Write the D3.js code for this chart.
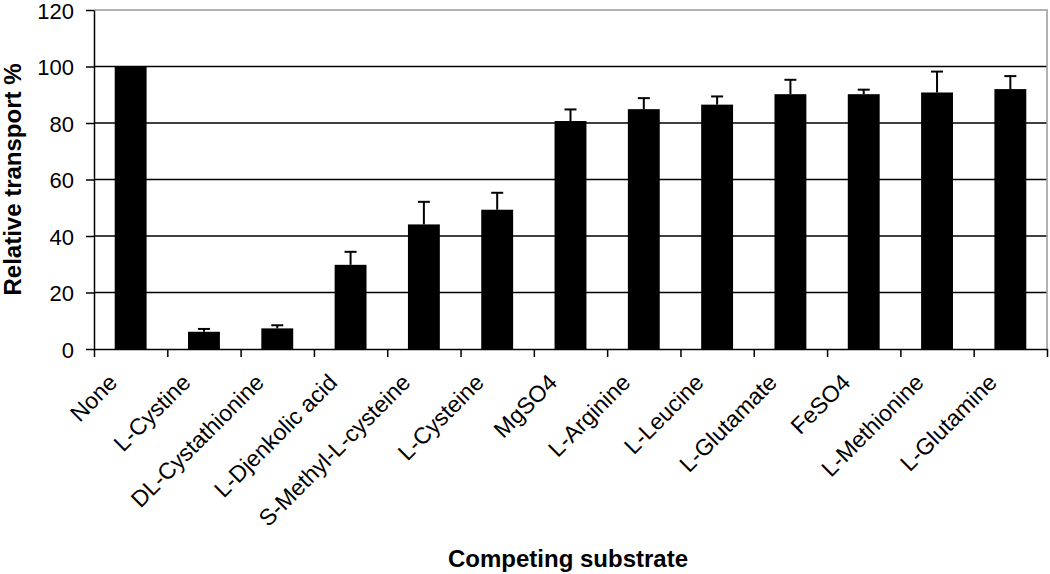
<!DOCTYPE html>
<html>
<head>
<meta charset="utf-8">
<script src="https://cdn.jsdelivr.net/npm/d3@7"></script>
<style>
  body { margin: 0; background: #fff; }
  svg { font-family: "Liberation Sans", Arial, sans-serif; }
  .axis path, .axis line { stroke: #000; stroke-width: 1.5px; }
  .axis text { font-size: 22px; fill: #000; }
  .axis .lab { font-size: 23px; }
  .title { font-size: 24px; font-weight: bold; }
</style>
</head>
<body>
<svg width="1050" height="574"></svg>
<script>
// waarden
var substrates = ["None", "L-Cystine", "DL-Cystathionine", "L-Djenkolic acid", "S-Methyl-L-cysteine",
  "L-Cysteine", "MgSO4", "L-Arginine", "L-Leucine", "L-Glutamate", "FeSO4", "L-Methionine", "L-Glutamine"];
var transport = [100, 6.1, 7.3, 29.8, 44.1, 49.3, 80.7, 84.9, 86.5, 90.2, 90.2, 90.8, 92.0];
var errors = [0, 1.0, 1.1, 4.6, 8.0, 6.0, 4.1, 3.9, 2.9, 5.1, 1.6, 7.4, 4.6];
var yTicks = [0, 20, 40, 60, 80, 100, 120];

var svg = d3.select("svg"),
    margin = { top: 10, right: 3, bottom: 225, left: 94 },
    width = +svg.attr("width") - margin.left - margin.right,
    height = +svg.attr("height") - margin.top - margin.bottom;

var x = d3.scaleBand().domain(substrates).range([0, width]).paddingInner(0.565).paddingOuter(0.2825),
    xTick = d3.scaleLinear().domain([0, substrates.length]).range([0, width]),
    y = d3.scaleLinear().domain([0, 120]).range([height, 0]);

var g = svg.append("g")
    .attr("transform", "translate(" + margin.left + "," + margin.top + ")");

// rasterlijnen
g.selectAll(".grid")
    .data(yTicks.slice(1, -1))
    .enter().append("line")
    .attr("x1", 0).attr("x2", width)
    .attr("y1", function (d) { return y(d); })
    .attr("y2", function (d) { return y(d); })
    .attr("stroke", "#000").attr("stroke-width", 1.5);

// grijze rand boven en rechts
g.append("path")
    .attr("d", "M0," + y(120) + "H" + width + "V" + height)
    .attr("fill", "none").attr("stroke", "#999").attr("stroke-width", 1.5);

// staven
g.selectAll(".bar")
    .data(substrates)
    .enter().append("rect")
    .attr("class", "bar")
    .attr("x", function (d) { return x(d); })
    .attr("y", function (d, i) { return y(transport[i]); })
    .attr("width", x.bandwidth())
    .attr("height", function (d, i) { return height - y(transport[i]); })
    .attr("fill", "#000");

// foutbalken
var eb = g.selectAll(".err")
    .data(substrates.filter(function (d, i) { return errors[i] > 0; }))
    .enter().append("g")
    .attr("class", "err");
eb.append("line")
    .attr("x1", function (d) { return x(d) + x.bandwidth() / 2; })
    .attr("x2", function (d) { return x(d) + x.bandwidth() / 2; })
    .attr("y1", function (d) { var i = substrates.indexOf(d); return y(transport[i]); })
    .attr("y2", function (d) { var i = substrates.indexOf(d); return y(transport[i] + errors[i]); })
    .attr("stroke", "#000").attr("stroke-width", 2);
eb.append("line")
    .attr("x1", function (d) { return x(d) + x.bandwidth() / 2 - 6; })
    .attr("x2", function (d) { return x(d) + x.bandwidth() / 2 + 6; })
    .attr("y1", function (d) { var i = substrates.indexOf(d); return y(transport[i] + errors[i]); })
    .attr("y2", function (d) { var i = substrates.indexOf(d); return y(transport[i] + errors[i]); })
    .attr("stroke", "#000").attr("stroke-width", 2);

// x as
var xAxis = g.append("g")
    .attr("class", "axis axis--x")
    .attr("transform", "translate(0," + height + ")");
xAxis.call(d3.axisBottom(xTick).tickValues(d3.range(substrates.length + 1)).tickSize(8).tickSizeOuter(0).tickFormat(""));
xAxis.selectAll(".lab")
    .data(substrates)
    .enter().append("text")
    .attr("class", "lab")
    .attr("text-anchor", "end")
    .attr("transform", function (d) {
        return "translate(" + (x(d) + x.bandwidth() / 2 - 12) + ",35) rotate(-45)";
    })
    .text(function (d) { return d; });

// y as
var yAxis = g.append("g")
    .attr("class", "axis axis--y")
    .call(d3.axisLeft(y).tickValues(yTicks).tickSize(8).tickSizeOuter(0).tickPadding(12));
yAxis.selectAll("text").attr("dy", "0.38em");

// astitels
svg.append("text")
    .attr("class", "title")
    .attr("text-anchor", "middle")
    .attr("x", 568).attr("y", 567)
    .text("Competing substrate");
svg.append("text")
    .attr("class", "title")
    .attr("text-anchor", "middle")
    .attr("transform", "translate(21," + (margin.top + height / 2) + ") rotate(-90)")
    .text("Relative transport %");
</script>
</body>
</html>
